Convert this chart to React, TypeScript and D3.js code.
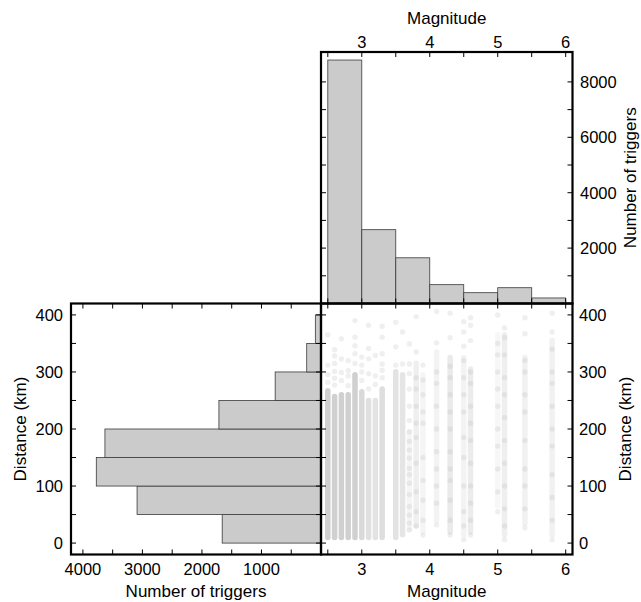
import React from "react";
import * as d3 from "d3";

// ---------- data ----------
const magBinStarts = [2.5, 3.0, 3.5, 4.0, 4.5, 5.0, 5.5];
const magBinWidth = 0.5;
const magCounts = [8790, 2665, 1650, 680, 390, 570, 200];

const distBinStarts = [0, 50, 100, 150, 200, 250, 300, 350];
const distBinWidth = 50;
const distCounts = [1660, 3090, 3775, 3630, 1715, 770, 240, 95];

const magTickLabels = [3, 4, 5, 6];
const magMinorTicks = [2.5, 3, 3.5, 4, 4.5, 5, 5.5, 6];
const topCountTickLabels = [2000, 4000, 6000, 8000];
const topCountMinorTicks = [1000, 2000, 3000, 4000, 5000, 6000, 7000, 8000];
const leftCountTickLabels = [1000, 2000, 3000, 4000];
const leftCountMinorTicks = [500, 1000, 1500, 2000, 2500, 3000, 3500, 4000];
const distTickLabels = [0, 100, 200, 300, 400];
const distMinorTicks = [0, 50, 100, 150, 200, 250, 300, 350, 400];

// scatter columns: magnitude, dense core range (km), core density, and individual points (km)
const colMags = [2.5, 2.6, 2.7, 2.8, 2.9, 3.0, 3.1, 3.2, 3.3, 3.5, 3.6, 3.7, 3.8, 3.9, 4.1, 4.3, 4.5, 4.6, 5.0, 5.1, 5.4, 5.8];
const colCoreLo = [5, 5, 5, 5, 5, 5, 5, 5, 5, 5, 10, 20, 25, 15, 35, 15, 10, 15, 60, 10, 30, 10];
const colCoreHi = [272, 262, 265, 265, 300, 270, 255, 255, 275, 305, 300, 200, 320, 300, 340, 330, 330, 310, 370, 370, 330, 360];
const colCoreDensity = [1, 1, 1, 1, 1, 0.8, 0.65, 0.6, 0.7, 0.6, 0.55, 0.22, 0.35, 0.22, 0.25, 0.45, 0.25, 0.4, 0.18, 0.35, 0.3, 0.3];
const colPoints = [
  [282, 295, 312, 365],
  [277, 289, 301, 315, 328, 339],
  [285, 299, 323, 358],
  [276, 293, 302, 320],
  [315, 332, 346, 361, 390],
  [285, 300, 312, 326],
  [270, 297, 323, 341, 382],
  [278, 293, 329],
  [290, 303, 314, 332, 361, 380],
  [312, 344, 387],
  [314, 370],
  [23, 35, 49, 64, 85, 105, 120, 131, 149, 163, 178, 195, 215, 240, 270, 297, 314, 349],
  [30, 55, 90, 140, 185, 210, 240, 270, 290, 335, 397],
  [14, 40, 75, 110, 150, 210, 230, 260, 286, 312],
  [32, 70, 100, 130, 160, 200, 240, 280, 300, 351, 406],
  [14, 40, 75, 110, 130, 160, 200, 230, 260, 290, 310, 360, 403],
  [6, 30, 55, 100, 150, 185, 230, 260, 290, 320, 345, 370, 388],
  [14, 40, 70, 100, 140, 180, 210, 240, 280, 300, 355, 382, 395],
  [55, 90, 130, 170, 200, 240, 270, 300, 330, 350, 400],
  [6, 30, 60, 100, 140, 180, 220, 260, 290, 330, 360, 377],
  [27, 60, 100, 130, 180, 230, 260, 300, 320, 367, 395],
  [6, 40, 80, 120, 170, 200, 240, 280, 300, 340, 370, 403],
];

// ---------- layout ----------
const X_LEFT = 71;
const X_SPLIT = 321;
const X_RIGHT = 572.5;
const Y_TOP = 52;
const Y_SPLIT = 303.5;
const Y_BOTTOM = 554.5;
const TICK = 5;
const FONT = "'Liberation Sans', Arial, Helvetica, sans-serif";

const xMag = d3.scaleLinear().domain([2.4, 6.1]).range([X_SPLIT, X_RIGHT]);
const yCount = d3.scaleLinear().domain([0, 9080]).range([Y_SPLIT, Y_TOP]);
const xCount = d3.scaleLinear().domain([0, 4200]).range([X_SPLIT, X_LEFT]);
const yDist = d3.scaleLinear().domain([-20, 420]).range([Y_BOTTOM, Y_SPLIT]);

function HTicks({ values, scale, y, dir }: { values: number[]; scale: (v: number) => number; y: number; dir: number }) {
  return (
    <g>
      {values.map((v) => (
        <line key={v} x1={scale(v)} x2={scale(v)} y1={y} y2={y + dir * TICK} stroke="#000" strokeWidth={1} />
      ))}
    </g>
  );
}
function VTicks({ values, scale, x, dir }: { values: number[]; scale: (v: number) => number; x: number; dir: number }) {
  return (
    <g>
      {values.map((v) => (
        <line key={v} y1={scale(v)} y2={scale(v)} x1={x} x2={x + dir * TICK} stroke="#000" strokeWidth={1} />
      ))}
    </g>
  );
}

export default function App() {
  const bandW = 5.5;
  return (
    <svg
      width={641}
      height={602}
      style={{ position: "absolute", left: 0, top: 0, background: "#fff" }}
      fontFamily={FONT}
    >
      <rect x={0} y={0} width={641} height={602} fill="#fff" />
      <defs>
        <clipPath id="scatClip">
          <rect x={X_SPLIT} y={Y_SPLIT} width={X_RIGHT - X_SPLIT} height={Y_BOTTOM - Y_SPLIT} />
        </clipPath>
      </defs>

      {/* scatter */}
      <g clipPath="url(#scatClip)">
        {colMags.map((m, i) => (
          <rect
            key={"band" + i}
            x={xMag(m) - bandW / 2}
            width={bandW}
            y={yDist(colCoreHi[i])}
            height={yDist(colCoreLo[i]) - yDist(colCoreHi[i])}
            rx={bandW / 2}
            fill="#d0d0d0"
            fillOpacity={colCoreDensity[i]}
          />
        ))}
        {colMags.map((m, i) =>
          colPoints[i].map((d, j) => (
            <circle key={"p" + i + "_" + j} cx={xMag(m)} cy={yDist(d)} r={2.7} fill="#b0b0b0" fillOpacity={0.2} />
          ))
        )}
      </g>

      {/* top histogram */}
      {magBinStarts.map((b, i) => (
        <rect
          key={"mb" + i}
          x={xMag(b)}
          width={xMag(b + magBinWidth) - xMag(b)}
          y={yCount(magCounts[i])}
          height={yCount(0) - yCount(magCounts[i])}
          fill="#cbcbcb"
          stroke="#3a3a3a"
          strokeWidth={0.8}
        />
      ))}

      {/* left histogram */}
      {distBinStarts.map((b, i) => (
        <rect
          key={"db" + i}
          x={xCount(distCounts[i])}
          width={xCount(0) - xCount(distCounts[i])}
          y={yDist(b + distBinWidth)}
          height={yDist(b) - yDist(b + distBinWidth)}
          fill="#cbcbcb"
          stroke="#3a3a3a"
          strokeWidth={0.8}
        />
      ))}

      {/* ticks: top panel */}
      <HTicks values={magMinorTicks} scale={xMag} y={Y_TOP} dir={1} />
      <HTicks values={magMinorTicks} scale={xMag} y={Y_SPLIT} dir={-1} />
      <VTicks values={topCountMinorTicks} scale={yCount} x={X_SPLIT} dir={1} />
      <VTicks values={topCountMinorTicks} scale={yCount} x={X_RIGHT} dir={-1} />

      {/* ticks: left panel */}
      <HTicks values={leftCountMinorTicks} scale={xCount} y={Y_SPLIT} dir={1} />
      <HTicks values={leftCountMinorTicks} scale={xCount} y={Y_BOTTOM} dir={-1} />
      <VTicks values={distMinorTicks} scale={yDist} x={X_LEFT} dir={1} />
      <VTicks values={distMinorTicks} scale={yDist} x={X_SPLIT} dir={-1} />

      {/* ticks: scatter */}
      <HTicks values={magMinorTicks} scale={xMag} y={Y_SPLIT} dir={1} />
      <HTicks values={magMinorTicks} scale={xMag} y={Y_BOTTOM} dir={-1} />
      <VTicks values={distMinorTicks} scale={yDist} x={X_SPLIT} dir={1} />
      <VTicks values={distMinorTicks} scale={yDist} x={X_RIGHT} dir={-1} />

      {/* frames */}
      <g fill="none" stroke="#000" strokeWidth={2.2}>
        <rect x={X_SPLIT} y={Y_TOP} width={X_RIGHT - X_SPLIT} height={Y_SPLIT - Y_TOP} />
        <rect x={X_LEFT} y={Y_SPLIT} width={X_SPLIT - X_LEFT} height={Y_BOTTOM - Y_SPLIT} />
        <rect x={X_SPLIT} y={Y_SPLIT} width={X_RIGHT - X_SPLIT} height={Y_BOTTOM - Y_SPLIT} />
      </g>

      {/* tick labels */}
      <g fontSize={16.5} fill="#000">
        {magTickLabels.map((v) => (
          <text key={"tm" + v} x={xMag(v)} y={47.5} textAnchor="middle">
            {v}
          </text>
        ))}
        {topCountTickLabels.map((v) => (
          <text key={"tc" + v} x={580} y={yCount(v)} dy="0.36em" textAnchor="start">
            {v}
          </text>
        ))}
        {distTickLabels.map((v) => (
          <text key={"ld" + v} x={63} y={yDist(v)} dy="0.36em" textAnchor="end">
            {v}
          </text>
        ))}
        {leftCountTickLabels.map((v) => (
          <text key={"lc" + v} x={xCount(v)} y={574.5} textAnchor="middle">
            {v}
          </text>
        ))}
        {magTickLabels.map((v) => (
          <text key={"bm" + v} x={xMag(v)} y={574.5} textAnchor="middle">
            {v}
          </text>
        ))}
        {distTickLabels.map((v) => (
          <text key={"rd" + v} x={579} y={yDist(v)} dy="0.36em" textAnchor="start">
            {v}
          </text>
        ))}
      </g>

      {/* axis titles */}
      <g fontSize={17} fill="#000" textAnchor="middle">
        <text x={(X_SPLIT + X_RIGHT) / 2} y={23.5}>Magnitude</text>
        <text transform={`translate(636,${(Y_TOP + Y_SPLIT) / 2}) rotate(-90)`}>Number of triggers</text>
        <text x={(X_LEFT + X_SPLIT) / 2} y={597}>Number of triggers</text>
        <text transform={`translate(26,${(Y_SPLIT + Y_BOTTOM) / 2}) rotate(-90)`}>Distance (km)</text>
        <text x={(X_SPLIT + X_RIGHT) / 2} y={597}>Magnitude</text>
        <text transform={`translate(631,${(Y_SPLIT + Y_BOTTOM) / 2}) rotate(-90)`}>Distance (km)</text>
      </g>
    </svg>
  );
}
